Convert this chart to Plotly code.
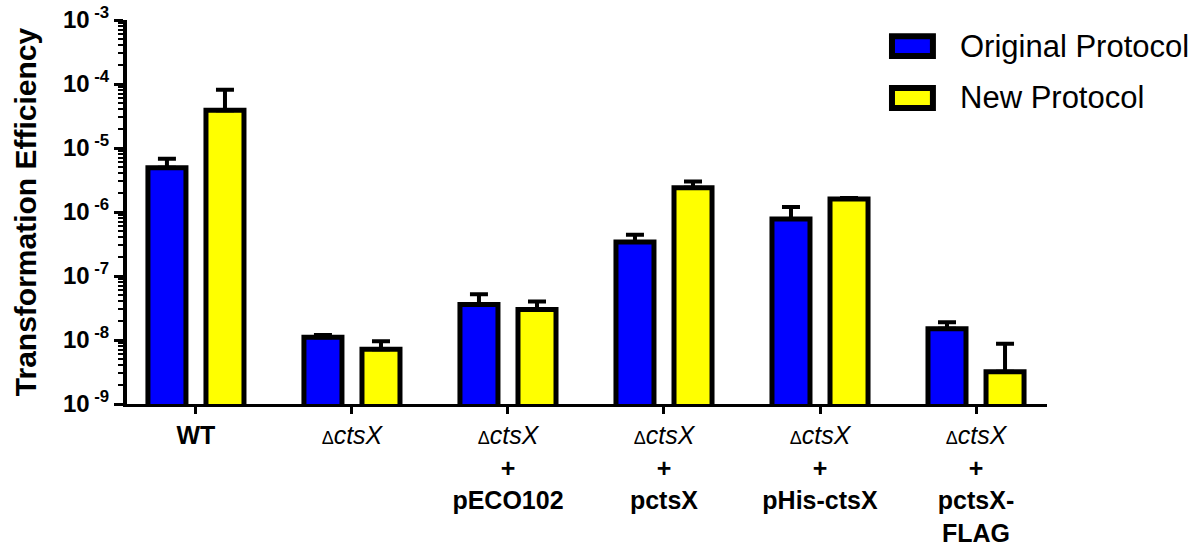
import plotly.graph_objects as go

# Strains and their tick labels
strains = ["WT", "dctsX", "dctsX+pECO102", "dctsX+pctsX", "dctsX+pHis-ctsX", "dctsX+pctsX-FLAG"]
delta = "<span style='font-size:18px'>Δ</span><i>ctsX</i>"
tick_labels = [
    "<b>WT</b>",
    delta,
    delta + "<br><b>+</b><br><b>pECO102</b>",
    delta + "<br><b>+</b><br><b>pctsX</b>",
    delta + "<br><b>+</b><br><b>pHis-ctsX</b>",
    delta + "<br><b>+</b><br><b>pctsX-</b><br><b>FLAG</b>",
]

# Transformation efficiency (mean) and upper error
original = [4.9e-6, 1.1e-8, 3.6e-8, 3.4e-7, 7.8e-7, 1.5e-8]
original_err = [1.9e-6, 0.1e-8, 1.6e-8, 1.0e-7, 4.2e-7, 0.4e-8]
new = [3.9e-5, 7.2e-9, 3.0e-8, 2.4e-6, 1.6e-6, 3.2e-9]
new_err = [4.2e-5, 2.4e-9, 1.0e-8, 0.6e-6, 0.05e-6, 5.5e-9]

series = [
    ("Original Protocol", original, original_err, "#0000FF"),
    ("New Protocol", new, new_err, "#FFFF00"),
]

# y-axis decades
decades = [1e-9, 1e-8, 1e-7, 1e-6, 1e-5, 1e-4, 1e-3]
decade_labels = ["<b>10<sup> -%d</sup></b>" % e for e in range(9, 2, -1)]
minor_vals = [k * d for d in decades[:-1] for k in range(2, 10)]

FONT = "Arial, Liberation Sans, sans-serif"

fig = go.Figure()
for name, vals, errs, color in series:
    fig.add_trace(go.Bar(
        x=strains, y=vals, name=name, showlegend=False,
        marker=dict(color=color, line=dict(color="black", width=5)),
        error_y=dict(type="data", array=errs, arrayminus=[0] * len(errs),
                     symmetric=False, color="black", thickness=4, width=9),
    ))

fig.update_layout(
    width=1204, height=550,
    margin=dict(l=127, r=157, t=20, b=146),
    paper_bgcolor="white", plot_bgcolor="white",
    barmode="group", bargap=0.256, bargroupgap=0.345,
    font=dict(family=FONT, color="black"),
)

fig.update_xaxes(
    range=[-0.442, 5.455], automargin=False,
    tickmode="array", tickvals=strains, ticktext=tick_labels,
    tickfont=dict(size=25, family=FONT, color="black"),
    showline=True, linewidth=3, linecolor="black",
    ticks="outside", ticklen=7, tickwidth=2.5, tickcolor="black",
    showgrid=False, zeroline=False,
)

fig.update_yaxes(
    type="log", range=[-9, -3], automargin=False,
    tickmode="array", tickvals=decades, ticktext=decade_labels,
    tickfont=dict(size=24, family=FONT, color="black"),
    showline=True, linewidth=4, linecolor="black",
    ticks="outside", ticklen=9, tickwidth=3, tickcolor="black",
    minor=dict(tickmode="array", tickvals=minor_vals, ticks="outside",
               ticklen=5, tickwidth=2, tickcolor="black", showgrid=False),
    showgrid=False, zeroline=False,
    title=dict(text="<b>Transformation Efficiency</b>",
               font=dict(size=30, family=FONT, color="black"), standoff=18),
)

# Legend drawn as framed swatches with labels
legend_rows = [(0.958, 0.906, 0.932), (0.823, 0.771, 0.797)]
for (name, _, _, color), (y1, y0, yt) in zip(series, legend_rows):
    fig.add_shape(type="rect", xref="paper", yref="paper",
                  x0=0.8315, x1=0.876, y0=y0, y1=y1,
                  fillcolor=color, line=dict(color="black", width=6))
    fig.add_annotation(xref="paper", yref="paper", x=0.903, y=yt,
                       text=name, showarrow=False, xanchor="left", yanchor="middle",
                       font=dict(size=31, family=FONT, color="black"))

fig.write_html("out.html")
